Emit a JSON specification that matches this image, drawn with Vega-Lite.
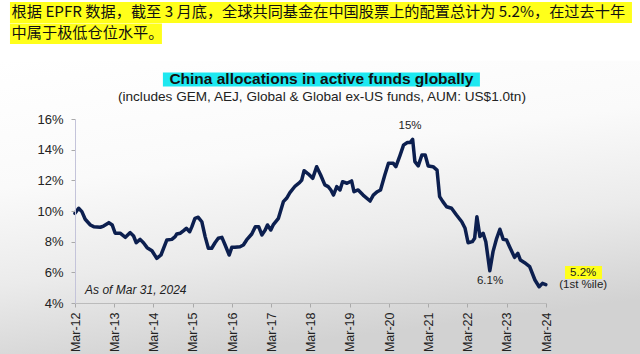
{
  "$schema": "https://vega.github.io/schema/vega-lite/v6.json",
  "width": 471,
  "height": 184,
  "autosize": {"type": "none"},
  "padding": {"left": 75, "top": 119, "right": 94, "bottom": 51},
  "background": "white",
  "config": {
    "view": {"stroke": null},
    "font": "Liberation Sans",
    "axis": {"labelOverlap": false, "labelFlush": false, "grid": false, "title": null, "labelColor": "#222", "tickColor": "#aaa", "tickSize": 4, "zindex": 1}
  },
  "encoding": {
    "x": {
      "field": "date", "type": "temporal",
      "scale": {"domain": ["2012-03-01", "2024-03-01"]},
      "axis": {
        "values": ["2012-03-01", "2013-03-01", "2014-03-01", "2015-03-01", "2016-03-01", "2017-03-01", "2018-03-01", "2019-03-01", "2020-03-01", "2021-03-01", "2022-03-01", "2023-03-01", "2024-03-01"],
        "format": "%b-%y",
        "labelAngle": -90,
        "labelFontSize": 12.5,
        "labelPadding": 5,
        "domainColor": "#bbb",
        "labelOverlap": false,
        "zindex": 1
      }
    },
    "y": {
      "field": "value", "type": "quantitative",
      "scale": {"domain": [4, 16], "nice": false, "zero": false},
      "axis": {
        "values": [4, 6, 8, 10, 12, 14, 16],
        "labelExpr": "datum.value + '%'",
        "labelFontSize": 13,
        "labelPadding": 8,
        "domainColor": "#c4c4da",
        "labelOverlap": false,
        "zindex": 1
      }
    }
  },
  "layer": [
    {
      "data": {"values": [
        {"date": "2010-01-01", "x1": "2027-07-01", "value": 19.8, "y1": 0.5}
      ]},
      "mark": {"type": "rect", "clip": false, "fill": {"gradient": "linear", "x1": 0, "y1": 0, "x2": 0.3, "y2": 1, "stops": [{"offset": 0, "color": "#ffffff"}, {"offset": 0.4, "color": "#fafafa"}, {"offset": 0.7, "color": "#ebebeb"}, {"offset": 1, "color": "#d2d2d2"}]}},
      "encoding": {
        "x2": {"field": "x1"},
        "y2": {"field": "y1"}
      }
    },
    {
      "data": {"values": [
        {"date": "2010-07-05", "x1": "2026-05-10", "value": 23.63, "y1": 22.26},
        {"date": "2010-07-05", "x1": "2014-05-19", "value": 22.23, "y1": 20.89},
        {"date": "2024-08-25", "x1": "2025-08-04", "value": 6.41, "y1": 5.56}
      ]},
      "mark": {"type": "rect", "color": "#ffff1a", "clip": false},
      "encoding": {
        "x2": {"field": "x1"},
        "y2": {"field": "y1"}
      }
    },
    {
      "data": {"values": [
        {"date": "2014-05-28", "x1": "2022-06-25", "value": 19.03, "y1": 18.12}
      ]},
      "mark": {"type": "rect", "color": "#1ee8f0", "clip": false},
      "encoding": {
        "x2": {"field": "x1"},
        "y2": {"field": "y1"}
      }
    },
    {
      "data": {"values": [
        {"date": "2010-07-20", "value": 22.98, "label": "根据 EPFR 数据，截至 3 月底，全球共同基金在中国股票上的配置总计为 5.2%，在过去十年"},
        {"date": "2010-07-20", "value": 21.61, "label": "中属于极低仓位水平。"}
      ]},
      "mark": {"type": "text", "align": "left", "baseline": "middle", "font": "Noto Sans CJK SC", "fontSize": 15.2, "color": "#111", "clip": false},
      "encoding": {"text": {"field": "label"}}
    },
    {
      "data": {"values": [
        {"date": "2018-06-11", "value": 18.58, "label": "China allocations in active funds globally"}
      ]},
      "mark": {"type": "text", "align": "center", "baseline": "middle", "fontSize": 15.5, "fontWeight": "bold", "color": "#111", "clip": false},
      "encoding": {"text": {"field": "label"}}
    },
    {
      "data": {"values": [
        {"date": "2018-06-16", "value": 17.43, "label": "(includes GEM, AEJ, Global & Global ex-US funds, AUM: US$1.0tn)"}
      ]},
      "mark": {"type": "text", "align": "center", "baseline": "middle", "fontSize": 13.6, "color": "#222", "clip": false},
      "encoding": {"text": {"field": "label"}}
    },
    {
      "data": {"values": [
        {"date": "2020-09-13", "value": 15.54, "label": "15%"},
        {"date": "2022-09-27", "value": 5.43, "label": "6.1%"},
        {"date": "2025-02-10", "value": 5.98, "label": "5.2%"},
        {"date": "2025-02-10", "value": 5.17, "label": "(1st %ile)"}
      ]},
      "mark": {"type": "text", "align": "center", "baseline": "middle", "fontSize": 11.5, "color": "#222", "clip": false},
      "encoding": {"text": {"field": "label"}}
    },
    {
      "data": {"values": [
        {"date": "2012-06-03", "value": 4.85, "label": "As of Mar 31, 2024"}
      ]},
      "mark": {"type": "text", "align": "left", "baseline": "middle", "fontSize": 12, "fontStyle": "italic", "color": "#222", "clip": false},
      "encoding": {"text": {"field": "label"}}
    },
    {
      "data": {"values": [
        {"date": "2012-03-01", "value": 9.85}, {"date": "2012-04-04", "value": 10.18}, {"date": "2012-05-04", "value": 9.96},
        {"date": "2012-06-04", "value": 9.46}, {"date": "2012-07-22", "value": 9.09}, {"date": "2012-08-22", "value": 8.98},
        {"date": "2012-10-22", "value": 8.94}, {"date": "2012-11-22", "value": 9.02}, {"date": "2013-01-10", "value": 9.24},
        {"date": "2013-02-10", "value": 9.09}, {"date": "2013-03-10", "value": 8.55}, {"date": "2013-04-25", "value": 8.55},
        {"date": "2013-06-13", "value": 8.28}, {"date": "2013-07-28", "value": 8.59}, {"date": "2013-08-28", "value": 8.37},
        {"date": "2013-09-22", "value": 7.93}, {"date": "2013-10-28", "value": 8.15}, {"date": "2013-11-28", "value": 7.93},
        {"date": "2014-01-01", "value": 7.61}, {"date": "2014-02-15", "value": 7.41}, {"date": "2014-04-01", "value": 6.91},
        {"date": "2014-05-10", "value": 7.13}, {"date": "2014-07-04", "value": 8.11}, {"date": "2014-08-19", "value": 8.15},
        {"date": "2014-09-19", "value": 8.33}, {"date": "2014-10-04", "value": 8.5}, {"date": "2014-11-07", "value": 8.55},
        {"date": "2014-12-07", "value": 8.72}, {"date": "2015-01-01", "value": 8.87}, {"date": "2015-02-01", "value": 8.65},
        {"date": "2015-02-22", "value": 8.98}, {"date": "2015-03-22", "value": 9.52}, {"date": "2015-04-22", "value": 9.59},
        {"date": "2015-05-25", "value": 9.3}, {"date": "2015-06-25", "value": 8.33}, {"date": "2015-07-25", "value": 7.57},
        {"date": "2015-08-25", "value": 7.57}, {"date": "2015-09-25", "value": 7.93}, {"date": "2015-10-25", "value": 8.22},
        {"date": "2015-11-28", "value": 8.28}, {"date": "2015-12-28", "value": 7.78}, {"date": "2016-02-04", "value": 7.13},
        {"date": "2016-02-28", "value": 7.63}, {"date": "2016-03-28", "value": 7.63}, {"date": "2016-05-15", "value": 7.67},
        {"date": "2016-06-15", "value": 7.78}, {"date": "2016-07-15", "value": 8.11}, {"date": "2016-09-01", "value": 8.5},
        {"date": "2016-10-04", "value": 8.98}, {"date": "2016-11-04", "value": 8.98}, {"date": "2016-12-04", "value": 8.44},
        {"date": "2017-01-04", "value": 8.76}, {"date": "2017-01-25", "value": 9.09}, {"date": "2017-02-25", "value": 8.76},
        {"date": "2017-03-19", "value": 9.09}, {"date": "2017-05-07", "value": 9.52}, {"date": "2017-06-22", "value": 10.61},
        {"date": "2017-07-22", "value": 10.83}, {"date": "2017-08-22", "value": 11.2}, {"date": "2017-10-10", "value": 11.63},
        {"date": "2017-11-19", "value": 11.85}, {"date": "2017-12-10", "value": 12.02}, {"date": "2018-01-01", "value": 12.63},
        {"date": "2018-02-10", "value": 12.41}, {"date": "2018-03-22", "value": 12.13}, {"date": "2018-04-28", "value": 12.89},
        {"date": "2018-06-04", "value": 12.35}, {"date": "2018-07-13", "value": 11.7}, {"date": "2018-08-13", "value": 11.59},
        {"date": "2018-09-07", "value": 11.37}, {"date": "2018-10-01", "value": 11.04}, {"date": "2018-11-01", "value": 11.59},
        {"date": "2018-12-01", "value": 11.37}, {"date": "2018-12-25", "value": 11.91}, {"date": "2019-02-04", "value": 11.81},
        {"date": "2019-03-19", "value": 11.96}, {"date": "2019-04-10", "value": 11.26}, {"date": "2019-05-19", "value": 11.37},
        {"date": "2019-07-04", "value": 11.04}, {"date": "2019-09-07", "value": 10.65}, {"date": "2019-10-07", "value": 11.04},
        {"date": "2019-11-13", "value": 11.26}, {"date": "2019-12-13", "value": 11.37}, {"date": "2020-01-22", "value": 12.35},
        {"date": "2020-02-25", "value": 13.11}, {"date": "2020-04-10", "value": 13.11}, {"date": "2020-05-04", "value": 12.89},
        {"date": "2020-06-10", "value": 13.6}, {"date": "2020-07-15", "value": 14.31}, {"date": "2020-08-19", "value": 14.46},
        {"date": "2020-09-13", "value": 14.46}, {"date": "2020-10-07", "value": 14.67}, {"date": "2020-10-28", "value": 13.22},
        {"date": "2020-11-28", "value": 12.94}, {"date": "2021-01-01", "value": 13.65}, {"date": "2021-02-01", "value": 13.65},
        {"date": "2021-03-01", "value": 12.94}, {"date": "2021-04-15", "value": 12.89}, {"date": "2021-05-22", "value": 12.67},
        {"date": "2021-06-15", "value": 10.94}, {"date": "2021-07-15", "value": 10.61}, {"date": "2021-08-19", "value": 10.28},
        {"date": "2021-10-04", "value": 10.18}, {"date": "2021-11-19", "value": 9.74}, {"date": "2022-01-07", "value": 9.3},
        {"date": "2022-02-07", "value": 8.87}, {"date": "2022-03-07", "value": 7.93}, {"date": "2022-04-15", "value": 8.0},
        {"date": "2022-05-07", "value": 8.22}, {"date": "2022-05-28", "value": 9.63}, {"date": "2022-06-25", "value": 8.33},
        {"date": "2022-07-25", "value": 8.55}, {"date": "2022-08-19", "value": 8.0}, {"date": "2022-09-25", "value": 6.1},
        {"date": "2022-10-25", "value": 7.35}, {"date": "2022-11-28", "value": 8.22}, {"date": "2022-12-28", "value": 8.81},
        {"date": "2023-01-28", "value": 8.15}, {"date": "2023-02-28", "value": 8.11}, {"date": "2023-03-28", "value": 7.67},
        {"date": "2023-05-13", "value": 6.98}, {"date": "2023-06-13", "value": 7.24}, {"date": "2023-07-07", "value": 6.8},
        {"date": "2023-08-15", "value": 6.63}, {"date": "2023-10-01", "value": 6.37}, {"date": "2023-11-19", "value": 5.5},
        {"date": "2023-12-28", "value": 5.06}, {"date": "2024-01-28", "value": 5.28}, {"date": "2024-02-28", "value": 5.2}
      ]},
      "mark": {"type": "line", "color": "#0c1f4f", "strokeWidth": 3.5, "strokeJoin": "round", "strokeCap": "round", "clip": false},
      "encoding": {}
    }
  ]
}
